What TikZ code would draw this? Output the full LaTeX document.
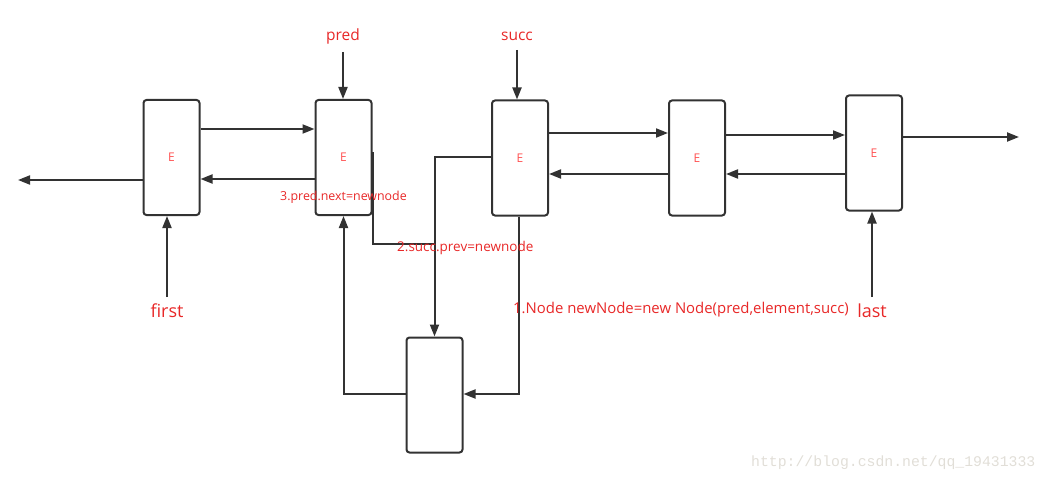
\documentclass[tikz,border=0pt]{standalone}
\usepackage{fontspec}
\setmainfont{Open Sans}
\newfontfamily\wmfont{Liberation Mono}
\usetikzlibrary{arrows.meta}
\definecolor{ln}{RGB}{50,50,50}
\definecolor{rd}{RGB}{232,40,40}
\definecolor{rdl}{RGB}{255,80,80}
\definecolor{wm}{RGB}{225,222,215}
\begin{document}
\begin{tikzpicture}[x=1pt,y=-1pt,
  box/.style={draw=ln,line width=2pt,rounded corners=3pt,minimum width=56pt,minimum height=115pt,inner sep=0pt},
  elab/.style={text=rdl,font=\fontsize{12}{14}\selectfont},
  arr/.style={draw=ln,line width=2pt,-{Triangle[length=12pt,width=9pt]}},
  seg/.style={draw=ln,line width=2pt},
  lab/.style={text=rd,font=\fontsize{11.5}{13}\selectfont,inner sep=0pt},
  big/.style={text=rd,font=\fontsize{18}{20}\selectfont,inner sep=0pt}]
\useasboundingbox (0,0) rectangle (1049,484);
% boxes
\node[box] (b1) at (171.5,157.5) {};
\node[box] (b2) at (343.5,157.5) {};
\node[box] (b3) at (520,158) {};
\node[box] (b4) at (697,158) {};
\node[box] (b5) at (874,153) {};
\node[box] (b6) at (434.5,395) {};
% E labels
\node[elab] at (b1.center) {E};
\node[elab] at (b2.center) {E};
\node[elab] at (b3.center) {E};
\node[elab] at (b4.center) {E};
\node[elab] at (b5.center) {E};
% top labels
\node[lab,font=\fontsize{15.5}{17}\selectfont] (pred) at (343,36.5) {pred};
\node[lab,font=\fontsize{15.5}{17}\selectfont] (succ) at (517,36.5) {succ};
\coordinate (predT) at (343,52);
\coordinate (succT) at (517,50);
\draw[arr] (predT) -- (predT |- b2.north);
\draw[arr] (succT) -- (succT |- b3.north);
% first / last
\node[big] (first) at (167,310.5) {first};
\node[big] (last) at (872,310.5) {last};
\coordinate (firstT) at (167,297);
\coordinate (lastT) at (872,297);
\draw[arr] (firstT) -- (firstT |- b1.south);
\draw[arr] (lastT) -- (lastT |- b5.south);
% horizontal links
\draw[arr] (b1.east |- 0,129) -- (b2.west |- 0,129);
\draw[arr] (b2.west |- 0,179) -- (b1.east |- 0,179);
\coordinate (leftEnd) at (18,180);
\draw[arr] (b1.west |- leftEnd) -- (leftEnd);
\draw[arr] (b3.east |- 0,133) -- (b4.west |- 0,133);
\draw[arr] (b4.west |- 0,174) -- (b3.east |- 0,174);
\draw[arr] (b4.east |- 0,135) -- (b5.west |- 0,135);
\draw[arr] (b5.west |- 0,174) -- (b4.east |- 0,174);
\coordinate (rightEnd) at (1019,137);
\draw[arr] (b5.east |- rightEnd) -- (rightEnd);
% insertion links
\draw[arr] (b3.west |- 0,157) -| (b6.north);
\draw[seg] (373,152) |- (434,244);
\draw[arr] (b3.south -| 519,0) |- (b6.east |- 0,394);
\draw[arr] (b6.west |- 0,394) -| (b2.south);
% step labels
\node[lab,font=\fontsize{12.4}{14}\selectfont,anchor=west] (s3) at (280,197) {3.pred.next=newnode};
\node[lab,font=\fontsize{13.5}{15}\selectfont,anchor=west] (s2) at (397,248) {2.succ.prev=newnode};
\node[lab,font=\fontsize{14.9}{16}\selectfont,anchor=west] (s1) at (513,310) {1.Node newNode=new Node(pred,element,succ)};
% watermark
\node[text=wm,font=\wmfont\fontsize{14.8}{16}\selectfont,anchor=west,inner sep=0pt] (wmk) at (751,463) {http://blog.csdn.net/qq\_19431333};
\end{tikzpicture}
\end{document}
